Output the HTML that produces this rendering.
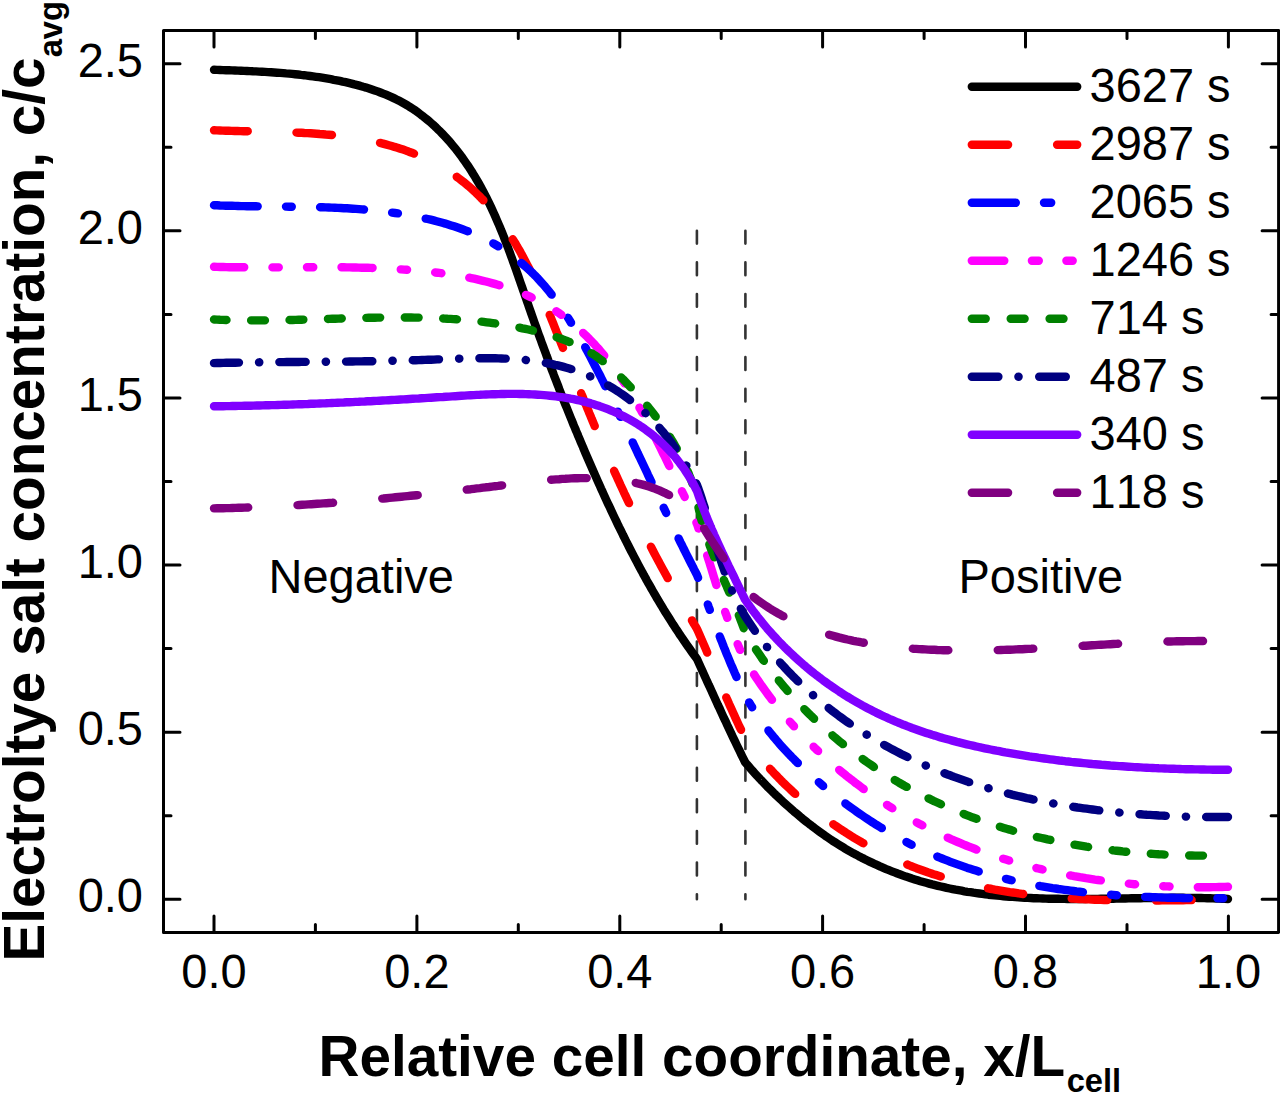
<!DOCTYPE html><html><head><meta charset="utf-8"><style>html,body{margin:0;padding:0;background:#fff;}svg{display:block;}text{font-family:"Liberation Sans",sans-serif;font-kerning:none;font-feature-settings:"kern" 0;}</style></head><body>
<svg width="1280" height="1095" viewBox="0 0 1280 1095">
<rect width="1280" height="1095" fill="#fff"/>
<g stroke="#333" stroke-width="2.6" stroke-linecap="round" stroke-dasharray="12.8 18.79">
<line x1="696.9" y1="230.8" x2="696.9" y2="899.3"/>
<line x1="745.4" y1="230.8" x2="745.4" y2="899.3"/>
</g>
<path d="M214.0 69.8L217.0 69.9L220.0 70.0L223.0 70.1L226.0 70.2L229.0 70.3L232.0 70.4L235.0 70.5L238.0 70.6L241.0 70.7L244.0 70.9L247.0 71.0L250.0 71.1L253.0 71.3L256.0 71.4L259.0 71.6L262.0 71.7L265.0 71.9L268.0 72.1L271.0 72.3L274.1 72.5L277.1 72.7L280.1 72.9L283.1 73.1L286.1 73.4L289.1 73.6L292.1 73.9L295.1 74.2L298.1 74.5L301.1 74.9L304.1 75.2L307.1 75.6L310.1 76.0L313.0 76.4L316.0 76.8L319.0 77.2L322.0 77.7L324.9 78.2L327.9 78.7L330.9 79.2L333.8 79.8L336.8 80.3L339.8 80.9L342.7 81.6L345.6 82.2L348.6 82.9L351.5 83.6L354.4 84.4L357.4 85.1L360.3 85.9L363.2 86.8L366.1 87.6L369.0 88.5L371.9 89.5L374.7 90.4L377.6 91.4L380.4 92.5L383.2 93.6L386.0 94.7L388.8 95.9L391.6 97.1L394.3 98.4L397.0 99.7L399.7 101.1L402.3 102.5L405.0 104.0L407.6 105.5L410.1 107.1L412.7 108.8L415.2 110.4L417.6 112.2L420.0 114.0L422.4 115.8L424.8 117.7L427.2 119.6L429.5 121.5L431.7 123.5L434.0 125.5L436.2 127.6L438.3 129.7L440.5 131.8L442.6 134.0L444.6 136.1L446.7 138.4L448.7 140.6L450.6 142.8L452.5 145.1L454.4 147.4L456.3 149.7L458.1 152.1L459.9 154.4L461.7 156.8L463.4 159.2L465.1 161.6L466.8 164.1L468.5 166.5L470.1 169.0L471.7 171.5L473.2 174.0L474.8 176.5L476.3 179.1L477.8 181.7L479.3 184.2L480.7 186.8L482.1 189.5L483.5 192.1L484.9 194.7L486.3 197.4L487.6 200.1L488.9 202.7L490.2 205.4L491.5 208.1L492.8 210.9L494.0 213.6L495.2 216.3L496.4 219.1L497.6 221.9L498.8 224.6L500.0 227.4L501.1 230.2L502.3 233.0L503.4 235.8L504.5 238.6L505.6 241.4L506.7 244.3L507.8 247.1L508.8 249.9L509.9 252.8L510.9 255.6L512.0 258.5L513.0 261.4L514.0 264.2L515.1 267.1L516.1 270.0L517.1 272.8L518.1 275.7L519.1 278.6L520.1 281.5L521.1 284.3L522.1 287.2L523.1 290.1L524.1 293.0L525.1 295.8L526.1 298.7L527.1 301.6L528.1 304.4L529.1 307.3L530.1 310.2L531.1 313.0L532.1 315.9L533.1 318.7L534.1 321.6L535.1 324.4L536.2 327.3L537.2 330.1L538.2 333.0L539.2 335.8L540.3 338.6L541.3 341.5L542.3 344.3L543.4 347.1L544.4 349.9L545.5 352.8L546.5 355.6L547.6 358.4L548.6 361.2L549.7 364.0L550.7 366.8L551.8 369.6L552.9 372.4L553.9 375.2L555.0 378.0L556.1 380.8L557.2 383.6L558.3 386.4L559.3 389.2L560.4 392.0L561.5 394.8L562.6 397.6L563.7 400.4L564.8 403.2L565.9 405.9L567.1 408.7L568.2 411.5L569.3 414.3L570.4 417.0L571.6 419.8L572.7 422.6L573.8 425.4L575.0 428.1L576.1 430.9L577.3 433.6L578.4 436.4L579.6 439.2L580.7 441.9L581.9 444.7L583.1 447.4L584.2 450.2L585.4 453.0L586.6 455.7L587.8 458.5L589.0 461.2L590.2 464.0L591.4 466.7L592.6 469.5L593.8 472.2L595.0 474.9L596.2 477.7L597.4 480.4L598.7 483.2L599.9 485.9L601.1 488.7L602.4 491.4L603.6 494.1L604.9 496.9L606.1 499.6L607.4 502.4L608.7 505.1L610.0 507.8L611.2 510.5L612.5 513.3L613.8 516.0L615.1 518.7L616.4 521.4L617.7 524.2L619.0 526.9L620.4 529.6L621.7 532.3L623.0 535.0L624.4 537.7L625.7 540.4L627.1 543.1L628.4 545.8L629.8 548.5L631.2 551.2L632.6 553.9L634.0 556.6L635.4 559.2L636.8 561.9L638.2 564.6L639.6 567.2L641.0 569.9L642.5 572.5L643.9 575.2L645.4 577.8L646.8 580.5L648.3 583.1L649.8 585.7L651.3 588.4L652.8 591.0L654.3 593.6L655.8 596.2L657.3 598.8L658.9 601.4L660.4 604.0L662.0 606.5L663.5 609.1L665.1 611.7L666.7 614.2L668.3 616.8L669.9 619.3L671.5 621.9L673.1 624.4L674.8 626.9L676.4 629.4L678.1 631.9L679.7 634.5L681.4 636.9L683.1 639.4L684.8 641.9L686.5 644.4L688.2 646.8L690.0 649.3L691.7 651.7L693.5 654.2L695.2 656.6L697.0 659.0L698.3 661.9L699.6 664.7L700.9 667.6L702.2 670.5L703.5 673.4L704.8 676.2L706.1 679.1L707.4 682.0L708.7 684.9L710.1 687.7L711.4 690.6L712.7 693.5L714.0 696.4L715.3 699.2L716.6 702.1L717.9 705.0L719.3 707.8L720.6 710.7L721.9 713.6L723.2 716.4L724.6 719.3L725.9 722.1L727.2 725.0L728.6 727.9L729.9 730.7L731.3 733.6L732.6 736.4L734.0 739.3L735.3 742.1L736.7 745.0L738.1 747.8L739.5 750.7L740.8 753.5L742.2 756.3L743.6 759.2L745.0 762.0L746.9 764.3L748.9 766.6L750.9 768.9L752.9 771.1L754.9 773.4L756.9 775.6L759.0 777.8L761.0 780.0L763.1 782.2L765.2 784.4L767.3 786.6L769.5 788.7L771.6 790.8L773.8 793.0L776.0 795.1L778.2 797.1L780.4 799.2L782.6 801.3L784.8 803.3L787.1 805.4L789.4 807.4L791.6 809.4L793.9 811.4L796.2 813.3L798.6 815.3L800.9 817.3L803.2 819.2L805.6 821.1L808.0 823.0L810.4 824.8L812.8 826.7L815.2 828.5L817.7 830.3L820.1 832.1L822.6 833.9L825.1 835.7L827.6 837.4L830.1 839.1L832.6 840.8L835.2 842.4L837.7 844.0L840.3 845.6L842.9 847.2L845.5 848.8L848.1 850.3L850.8 851.8L853.4 853.3L856.1 854.7L858.8 856.2L861.5 857.6L864.2 858.9L866.9 860.3L869.6 861.6L872.4 862.9L875.1 864.2L877.9 865.4L880.6 866.7L883.4 867.9L886.2 869.1L889.0 870.2L891.8 871.3L894.7 872.4L897.5 873.5L900.3 874.5L903.2 875.6L906.0 876.6L908.9 877.5L911.8 878.5L914.7 879.4L917.5 880.3L920.4 881.2L923.3 882.0L926.2 882.8L929.1 883.6L932.1 884.4L935.0 885.1L937.9 885.8L940.8 886.5L943.8 887.2L946.7 887.9L949.7 888.5L952.6 889.1L955.6 889.7L958.5 890.2L961.5 890.7L964.4 891.3L967.4 891.8L970.4 892.2L973.4 892.7L976.4 893.1L979.4 893.5L982.3 893.9L985.3 894.3L988.3 894.7L991.3 895.0L994.4 895.3L997.4 895.6L1000.4 895.9L1003.4 896.2L1006.4 896.5L1009.4 896.7L1012.5 896.9L1015.5 897.1L1018.5 897.3L1021.5 897.5L1024.6 897.7L1027.6 897.9L1030.7 898.0L1033.7 898.2L1036.7 898.3L1039.8 898.4L1042.8 898.5L1045.9 898.6L1048.9 898.7L1052.0 898.7L1055.0 898.8L1058.1 898.8L1061.1 898.9L1064.2 898.9L1067.3 899.0L1070.3 899.0L1073.4 899.0L1076.4 899.0L1079.5 899.0L1082.6 899.0L1085.6 899.0L1088.7 898.9L1091.7 898.9L1094.8 898.9L1097.9 898.9L1100.9 898.8L1104.0 898.8L1107.0 898.7L1110.1 898.7L1113.2 898.7L1116.2 898.6L1119.3 898.6L1122.3 898.5L1125.4 898.5L1128.5 898.4L1131.5 898.3L1134.6 898.3L1137.6 898.2L1140.7 898.2L1143.7 898.1L1146.8 898.1L1149.8 898.1L1152.8 898.0L1155.9 898.0L1158.9 897.9L1162.0 897.9L1165.0 897.9L1168.0 897.9L1171.1 897.8L1174.1 897.8L1177.1 897.8L1180.1 897.8L1183.1 897.8L1186.2 897.9L1189.2 897.9L1192.2 897.9L1195.2 897.9L1198.2 898.0L1201.2 898.0L1204.2 898.1L1207.2 898.2L1210.2 898.3L1213.1 898.4L1216.1 898.5L1219.1 898.6L1222.1 898.7L1225.0 898.8L1228.0 899.0" fill="none" stroke="#000000" stroke-width="8.4" stroke-linecap="round" stroke-linejoin="round"/>
<path d="M214.0 130.3L216.9 130.4L219.9 130.5L222.8 130.6L225.8 130.7L228.7 130.8L231.7 130.9L234.7 131.0L237.6 131.0L240.6 131.1L243.6 131.2L246.6 131.2L249.6 131.3L252.7 131.3L255.7 131.4L258.7 131.5L261.7 131.5L264.8 131.6L267.8 131.7L270.8 131.7L273.9 131.8L276.9 131.9L280.0 132.0L283.0 132.1L286.1 132.2L289.1 132.3L292.2 132.4L295.2 132.5L298.3 132.7L301.4 132.8L304.4 133.0L307.5 133.1L310.5 133.3L313.6 133.5L316.6 133.7L319.7 134.0L322.8 134.2L325.8 134.5L328.9 134.7L331.9 135.0L334.9 135.4L338.0 135.7L341.0 136.1L344.0 136.4L347.1 136.8L350.1 137.3L353.1 137.7L356.1 138.2L359.1 138.7L362.1 139.2L365.1 139.8L368.1 140.3L371.1 140.9L374.0 141.6L377.0 142.2L380.0 142.9L382.9 143.6L385.8 144.4L388.8 145.2L391.7 146.0L394.6 146.9L397.5 147.7L400.4 148.7L403.2 149.6L406.1 150.6L408.9 151.7L411.8 152.7L414.6 153.8L417.4 155.0L420.1 156.1L422.9 157.4L425.6 158.6L428.3 159.9L431.0 161.3L433.7 162.6L436.3 164.1L438.9 165.5L441.5 167.0L444.1 168.5L446.7 170.1L449.2 171.7L451.7 173.3L454.1 175.0L456.6 176.7L459.0 178.5L461.4 180.3L463.7 182.1L466.0 184.0L468.3 185.9L470.6 187.9L472.8 189.9L475.0 191.9L477.1 194.0L479.2 196.0L481.3 198.2L483.4 200.3L485.4 202.5L487.4 204.8L489.4 207.0L491.3 209.3L493.2 211.6L495.1 214.0L497.0 216.3L498.8 218.7L500.6 221.1L502.4 223.6L504.1 226.0L505.8 228.5L507.5 231.0L509.2 233.6L510.8 236.1L512.4 238.7L514.0 241.2L515.6 243.8L517.1 246.5L518.7 249.1L520.2 251.7L521.6 254.4L523.1 257.1L524.5 259.7L525.9 262.4L527.3 265.1L528.7 267.8L530.1 270.5L531.4 273.3L532.7 276.0L534.0 278.8L535.3 281.5L536.6 284.3L537.8 287.0L539.1 289.8L540.3 292.6L541.5 295.3L542.7 298.1L543.9 300.9L545.1 303.7L546.3 306.5L547.4 309.3L548.6 312.1L549.7 314.9L550.9 317.7L552.0 320.5L553.2 323.4L554.3 326.2L555.4 329.0L556.5 331.8L557.7 334.6L558.8 337.4L559.9 340.2L561.0 343.1L562.2 345.9L563.3 348.7L564.4 351.5L565.5 354.3L566.6 357.1L567.8 359.9L568.9 362.7L570.0 365.5L571.1 368.4L572.3 371.2L573.4 374.0L574.5 376.8L575.6 379.6L576.8 382.4L577.9 385.2L579.0 388.0L580.2 390.8L581.3 393.6L582.5 396.4L583.6 399.2L584.7 402.0L585.9 404.7L587.0 407.5L588.2 410.3L589.3 413.1L590.5 415.9L591.6 418.7L592.8 421.5L594.0 424.3L595.1 427.0L596.3 429.8L597.5 432.6L598.6 435.4L599.8 438.1L601.0 440.9L602.2 443.7L603.4 446.5L604.6 449.2L605.8 452.0L607.0 454.7L608.2 457.5L609.4 460.3L610.6 463.0L611.8 465.8L613.1 468.5L614.3 471.3L615.5 474.0L616.8 476.8L618.0 479.5L619.3 482.3L620.5 485.0L621.8 487.7L623.1 490.5L624.3 493.2L625.6 495.9L626.9 498.7L628.2 501.4L629.5 504.1L630.8 506.8L632.1 509.6L633.5 512.3L634.8 515.0L636.1 517.7L637.5 520.4L638.8 523.1L640.2 525.8L641.5 528.5L642.9 531.2L644.2 533.9L645.6 536.6L647.0 539.3L648.4 542.0L649.8 544.7L651.2 547.3L652.6 550.0L654.0 552.7L655.4 555.4L656.8 558.0L658.3 560.7L659.7 563.4L661.1 566.0L662.6 568.7L664.0 571.3L665.5 574.0L666.9 576.6L668.4 579.3L669.9 581.9L671.3 584.6L672.8 587.2L674.3 589.8L675.8 592.5L677.3 595.1L678.8 597.7L680.3 600.3L681.8 603.0L683.3 605.6L684.8 608.2L686.3 610.8L687.8 613.4L689.3 616.0L690.9 618.6L692.4 621.2L693.9 623.8L695.5 626.4L697.0 629.0L698.3 631.9L699.5 634.7L700.8 637.6L702.0 640.5L703.3 643.4L704.5 646.2L705.8 649.1L707.0 652.0L708.2 654.9L709.4 657.8L710.7 660.7L711.9 663.5L713.1 666.4L714.3 669.3L715.5 672.2L716.8 675.1L718.0 678.0L719.2 680.9L720.4 683.8L721.7 686.6L722.9 689.5L724.1 692.4L725.4 695.3L726.6 698.2L727.9 701.0L729.1 703.9L730.4 706.8L731.7 709.6L733.0 712.5L734.3 715.3L735.6 718.2L736.9 721.0L738.2 723.9L739.5 726.7L740.9 729.5L742.2 732.4L743.6 735.2L745.0 738.0L746.8 740.5L748.6 742.9L750.5 745.4L752.4 747.8L754.2 750.2L756.1 752.6L758.1 754.9L760.0 757.3L762.0 759.6L764.0 761.9L766.0 764.2L768.0 766.5L770.0 768.8L772.1 771.0L774.2 773.3L776.3 775.5L778.4 777.7L780.5 779.8L782.6 782.0L784.8 784.1L787.0 786.2L789.2 788.3L791.4 790.4L793.6 792.5L795.9 794.5L798.1 796.5L800.4 798.5L802.7 800.5L805.0 802.5L807.3 804.4L809.7 806.4L812.0 808.3L814.4 810.2L816.8 812.1L819.2 813.9L821.6 815.7L824.0 817.6L826.4 819.3L828.9 821.1L831.3 822.9L833.8 824.6L836.3 826.3L838.8 828.0L841.3 829.7L843.9 831.3L846.4 833.0L849.0 834.6L851.5 836.2L854.1 837.8L856.7 839.3L859.3 840.8L861.9 842.4L864.6 843.8L867.2 845.3L869.9 846.8L872.5 848.2L875.2 849.6L877.9 851.0L880.6 852.4L883.3 853.7L886.0 855.0L888.7 856.3L891.4 857.6L894.2 858.9L896.9 860.1L899.7 861.3L902.4 862.5L905.2 863.7L908.0 864.8L910.8 866.0L913.6 867.1L916.4 868.2L919.2 869.2L922.1 870.3L924.9 871.3L927.7 872.3L930.6 873.2L933.4 874.2L936.3 875.1L939.2 876.0L942.0 876.9L944.9 877.8L947.8 878.6L950.7 879.5L953.6 880.3L956.5 881.1L959.4 881.8L962.3 882.6L965.3 883.3L968.2 884.0L971.1 884.7L974.1 885.4L977.0 886.0L980.0 886.7L982.9 887.3L985.9 887.9L988.9 888.5L991.8 889.0L994.8 889.6L997.8 890.1L1000.8 890.6L1003.8 891.1L1006.8 891.6L1009.8 892.1L1012.8 892.5L1015.8 892.9L1018.8 893.4L1021.8 893.8L1024.8 894.2L1027.8 894.5L1030.8 894.9L1033.9 895.3L1036.9 895.6L1039.9 895.9L1042.9 896.2L1046.0 896.5L1049.0 896.8L1052.1 897.1L1055.1 897.3L1058.1 897.6L1061.2 897.8L1064.2 898.0L1067.3 898.3L1070.3 898.5L1073.4 898.6L1076.4 898.8L1079.5 899.0L1082.6 899.1L1085.6 899.3L1088.7 899.4L1091.7 899.6L1094.8 899.7L1097.8 899.8L1100.9 899.9L1104.0 900.0L1107.0 900.1L1110.1 900.2L1113.1 900.2L1116.2 900.3L1119.2 900.3L1122.3 900.4L1125.4 900.4L1128.4 900.5L1131.5 900.5L1134.5 900.5L1137.6 900.5L1140.6 900.5L1143.7 900.5L1146.7 900.5L1149.8 900.5L1152.8 900.5L1155.9 900.5L1158.9 900.5L1161.9 900.4L1165.0 900.4L1168.0 900.4L1171.0 900.3L1174.1 900.3L1177.1 900.3L1180.1 900.2L1183.1 900.2L1186.2 900.1L1189.2 900.1L1192.2 900.0L1195.2 900.0L1198.2 899.9L1201.2 899.8L1204.2 899.8L1207.2 899.7L1210.2 899.7L1213.2 899.6L1216.1 899.5L1219.1 899.5L1222.1 899.4L1225.0 899.4L1228.0 899.3" fill="none" stroke="#ff0000" stroke-width="8.4" stroke-linecap="round" stroke-linejoin="round" stroke-dasharray="35.60 48.77" stroke-dashoffset="1.86"/>
<path d="M214.0 205.2L217.0 205.3L220.0 205.5L223.0 205.6L226.0 205.7L229.0 205.8L232.0 205.8L235.0 205.9L238.0 206.0L241.0 206.1L244.0 206.1L247.0 206.2L250.0 206.2L253.0 206.3L256.1 206.3L259.1 206.4L262.1 206.4L265.1 206.4L268.1 206.5L271.2 206.5L274.2 206.5L277.2 206.5L280.2 206.6L283.3 206.6L286.3 206.6L289.3 206.7L292.4 206.7L295.4 206.7L298.4 206.8L301.5 206.8L304.5 206.9L307.5 206.9L310.6 207.0L313.6 207.1L316.6 207.1L319.6 207.2L322.7 207.3L325.7 207.4L328.7 207.5L331.8 207.6L334.8 207.7L337.8 207.9L340.8 208.0L343.9 208.2L346.9 208.3L349.9 208.5L352.9 208.7L356.0 208.9L359.0 209.1L362.0 209.4L365.0 209.6L368.0 209.9L371.0 210.1L374.0 210.4L377.0 210.7L380.0 211.1L383.0 211.4L386.0 211.8L389.0 212.2L392.0 212.6L395.0 213.0L398.0 213.4L401.0 213.9L404.0 214.4L407.0 214.9L409.9 215.4L412.9 215.9L415.9 216.5L418.9 217.1L421.8 217.7L424.8 218.4L427.7 219.0L430.7 219.7L433.6 220.4L436.6 221.2L439.5 222.0L442.4 222.8L445.3 223.6L448.2 224.5L451.1 225.4L454.0 226.3L456.9 227.3L459.7 228.3L462.5 229.3L465.4 230.4L468.2 231.4L471.0 232.6L473.7 233.8L476.5 235.0L479.2 236.2L481.9 237.5L484.6 238.8L487.3 240.2L490.0 241.6L492.6 243.0L495.2 244.5L497.8 246.0L500.3 247.6L502.8 249.2L505.3 250.9L507.8 252.6L510.2 254.3L512.6 256.1L515.0 257.9L517.4 259.7L519.7 261.6L522.0 263.5L524.3 265.5L526.5 267.5L528.7 269.5L530.9 271.5L533.1 273.6L535.2 275.7L537.3 277.9L539.3 280.1L541.3 282.3L543.3 284.5L545.3 286.8L547.2 289.1L549.1 291.4L551.0 293.8L552.8 296.1L554.7 298.5L556.4 300.9L558.2 303.4L560.0 305.8L561.7 308.3L563.4 310.8L565.1 313.3L566.7 315.9L568.4 318.4L570.0 321.0L571.6 323.6L573.2 326.1L574.7 328.8L576.3 331.4L577.8 334.0L579.3 336.7L580.8 339.3L582.3 342.0L583.8 344.6L585.3 347.3L586.7 350.0L588.2 352.7L589.6 355.4L591.0 358.1L592.4 360.8L593.8 363.5L595.2 366.2L596.6 368.9L598.0 371.6L599.4 374.3L600.8 377.0L602.1 379.7L603.5 382.4L604.8 385.1L606.2 387.8L607.5 390.5L608.9 393.2L610.2 395.9L611.6 398.7L612.9 401.4L614.2 404.1L615.5 406.8L616.9 409.5L618.2 412.2L619.5 414.9L620.8 417.6L622.1 420.3L623.4 423.0L624.7 425.7L626.0 428.5L627.3 431.2L628.6 433.9L629.9 436.6L631.2 439.3L632.5 442.0L633.8 444.7L635.1 447.5L636.4 450.2L637.6 452.9L638.9 455.6L640.2 458.3L641.5 461.1L642.8 463.8L644.1 466.5L645.4 469.2L646.7 471.9L647.9 474.7L649.2 477.4L650.5 480.1L651.8 482.8L653.1 485.6L654.4 488.3L655.7 491.0L657.0 493.7L658.3 496.4L659.6 499.2L660.9 501.9L662.2 504.6L663.5 507.3L664.8 510.1L666.1 512.8L667.4 515.5L668.7 518.2L670.0 520.9L671.3 523.6L672.7 526.4L674.0 529.1L675.3 531.8L676.6 534.5L678.0 537.2L679.3 539.9L680.6 542.6L682.0 545.3L683.3 548.0L684.7 550.7L686.0 553.4L687.4 556.1L688.7 558.8L690.1 561.5L691.5 564.2L692.9 566.9L694.2 569.6L695.6 572.3L697.0 575.0L698.1 577.9L699.1 580.7L700.2 583.6L701.2 586.5L702.3 589.4L703.3 592.3L704.4 595.2L705.4 598.0L706.5 600.9L707.6 603.8L708.6 606.7L709.7 609.6L710.7 612.5L711.8 615.4L712.9 618.3L714.0 621.2L715.0 624.0L716.1 626.9L717.2 629.8L718.3 632.7L719.4 635.6L720.5 638.5L721.7 641.3L722.8 644.2L723.9 647.1L725.1 649.9L726.2 652.8L727.4 655.6L728.6 658.5L729.7 661.3L730.9 664.2L732.2 667.0L733.4 669.8L734.6 672.7L735.9 675.5L737.1 678.3L738.4 681.1L739.7 683.9L741.0 686.7L742.3 689.5L743.6 692.2L745.0 695.0L746.4 697.6L747.9 700.2L749.4 702.8L751.0 705.4L752.6 708.0L754.2 710.5L755.8 713.0L757.5 715.5L759.2 718.0L760.9 720.4L762.7 722.8L764.4 725.3L766.3 727.6L768.1 730.0L769.9 732.4L771.8 734.7L773.7 737.0L775.7 739.3L777.6 741.6L779.6 743.9L781.6 746.2L783.6 748.4L785.7 750.6L787.8 752.8L789.8 755.0L791.9 757.2L794.1 759.3L796.2 761.5L798.4 763.6L800.6 765.7L802.8 767.8L805.0 769.9L807.2 771.9L809.4 774.0L811.7 776.0L814.0 778.0L816.3 780.0L818.6 782.0L820.9 784.0L823.2 786.0L825.6 787.9L827.9 789.9L830.3 791.8L832.6 793.7L835.0 795.6L837.4 797.5L839.8 799.3L842.3 801.2L844.7 803.0L847.2 804.8L849.6 806.6L852.1 808.4L854.6 810.2L857.1 812.0L859.6 813.7L862.1 815.4L864.6 817.1L867.1 818.8L869.7 820.5L872.2 822.1L874.8 823.8L877.4 825.4L880.0 827.0L882.6 828.6L885.2 830.1L887.8 831.7L890.4 833.2L893.1 834.7L895.7 836.2L898.4 837.7L901.0 839.1L903.7 840.6L906.4 842.0L909.1 843.4L911.8 844.8L914.5 846.1L917.2 847.4L919.9 848.8L922.7 850.0L925.4 851.3L928.2 852.6L930.9 853.8L933.7 855.0L936.5 856.2L939.2 857.4L942.0 858.5L944.8 859.6L947.6 860.7L950.4 861.8L953.3 862.9L956.1 863.9L958.9 864.9L961.8 865.9L964.6 866.9L967.4 867.9L970.3 868.8L973.2 869.7L976.0 870.6L978.9 871.5L981.8 872.4L984.7 873.2L987.6 874.1L990.5 874.9L993.4 875.7L996.3 876.4L999.2 877.2L1002.1 877.9L1005.1 878.7L1008.0 879.4L1010.9 880.1L1013.9 880.7L1016.8 881.4L1019.8 882.0L1022.7 882.7L1025.7 883.3L1028.7 883.9L1031.6 884.4L1034.6 885.0L1037.6 885.5L1040.6 886.1L1043.5 886.6L1046.5 887.1L1049.5 887.6L1052.5 888.1L1055.5 888.5L1058.5 889.0L1061.5 889.4L1064.5 889.8L1067.5 890.2L1070.5 890.6L1073.5 891.0L1076.6 891.4L1079.6 891.7L1082.6 892.1L1085.6 892.4L1088.6 892.7L1091.7 893.1L1094.7 893.4L1097.7 893.6L1100.8 893.9L1103.8 894.2L1106.8 894.4L1109.9 894.7L1112.9 894.9L1115.9 895.2L1119.0 895.4L1122.0 895.6L1125.1 895.8L1128.1 896.0L1131.1 896.1L1134.2 896.3L1137.2 896.5L1140.3 896.6L1143.3 896.8L1146.3 896.9L1149.4 897.0L1152.4 897.2L1155.5 897.3L1158.5 897.4L1161.5 897.5L1164.6 897.6L1167.6 897.7L1170.7 897.7L1173.7 897.8L1176.7 897.9L1179.8 897.9L1182.8 898.0L1185.8 898.1L1188.8 898.1L1191.9 898.1L1194.9 898.2L1197.9 898.2L1200.9 898.2L1204.0 898.3L1207.0 898.3L1210.0 898.3L1213.0 898.3L1216.0 898.3L1219.0 898.3L1222.0 898.3L1225.0 898.3L1228.0 898.3" fill="none" stroke="#0000ff" stroke-width="8.4" stroke-linecap="round" stroke-linejoin="round" stroke-dasharray="44.00 28.31 5.80 28.31" stroke-dashoffset="0.3"/>
<path d="M214.0 266.8L217.1 266.9L220.2 267.0L223.3 267.0L226.3 267.1L229.4 267.2L232.5 267.2L235.5 267.3L238.6 267.3L241.6 267.3L244.7 267.3L247.7 267.4L250.7 267.4L253.8 267.4L256.8 267.4L259.8 267.4L262.9 267.4L265.9 267.4L268.9 267.4L271.9 267.4L274.9 267.4L277.9 267.4L280.9 267.4L283.9 267.4L286.9 267.3L289.9 267.3L292.9 267.3L295.9 267.3L298.9 267.3L301.9 267.3L304.9 267.3L307.9 267.3L310.9 267.2L313.9 267.2L316.9 267.2L319.9 267.2L322.8 267.2L325.8 267.2L328.8 267.2L331.8 267.3L334.8 267.3L337.8 267.3L340.8 267.3L343.8 267.3L346.8 267.4L349.8 267.4L352.8 267.5L355.8 267.5L358.8 267.6L361.8 267.7L364.8 267.7L367.8 267.8L370.8 267.9L373.8 268.0L376.8 268.1L379.8 268.2L382.8 268.4L385.9 268.5L388.9 268.7L391.9 268.8L395.0 269.0L398.0 269.2L401.0 269.4L404.1 269.6L407.1 269.8L410.2 270.0L413.2 270.2L416.3 270.5L419.4 270.8L422.4 271.1L425.5 271.4L428.5 271.7L431.6 272.0L434.7 272.4L437.7 272.7L440.8 273.1L443.8 273.5L446.9 273.9L449.9 274.4L453.0 274.8L456.0 275.3L459.1 275.8L462.1 276.4L465.1 276.9L468.1 277.5L471.1 278.1L474.1 278.7L477.1 279.4L480.1 280.1L483.0 280.8L486.0 281.5L488.9 282.3L491.9 283.1L494.8 283.9L497.7 284.7L500.6 285.6L503.5 286.5L506.4 287.4L509.2 288.4L512.0 289.4L514.9 290.4L517.7 291.5L520.4 292.6L523.2 293.8L526.0 294.9L528.7 296.1L531.4 297.4L534.1 298.7L536.7 300.0L539.4 301.3L542.0 302.7L544.6 304.2L547.2 305.6L549.7 307.2L552.3 308.7L554.8 310.3L557.3 312.0L559.7 313.6L562.1 315.4L564.5 317.1L566.9 318.9L569.3 320.8L571.6 322.7L573.9 324.6L576.2 326.5L578.4 328.5L580.6 330.5L582.8 332.6L585.0 334.7L587.2 336.8L589.3 339.0L591.4 341.1L593.5 343.3L595.5 345.6L597.6 347.8L599.6 350.1L601.5 352.4L603.5 354.8L605.4 357.1L607.4 359.5L609.3 361.9L611.1 364.4L613.0 366.8L614.8 369.3L616.6 371.8L618.4 374.3L620.1 376.8L621.9 379.3L623.6 381.8L625.3 384.4L627.0 387.0L628.6 389.5L630.2 392.1L631.9 394.7L633.4 397.3L635.0 400.0L636.6 402.6L638.1 405.2L639.6 407.9L641.1 410.5L642.5 413.1L644.0 415.8L645.4 418.4L646.8 421.1L648.2 423.7L649.6 426.4L651.0 429.1L652.4 431.7L653.7 434.4L655.1 437.1L656.4 439.7L657.7 442.4L659.1 445.1L660.4 447.8L661.7 450.5L663.0 453.2L664.4 455.8L665.7 458.5L667.0 461.2L668.3 463.9L669.6 466.6L671.0 469.3L672.3 472.0L673.7 474.7L675.0 477.4L676.4 480.1L677.7 482.8L679.0 485.5L680.4 488.2L681.7 490.9L683.1 493.6L684.4 496.3L685.7 499.0L687.0 501.8L688.3 504.5L689.6 507.3L690.9 510.0L692.1 512.8L693.4 515.6L694.6 518.4L695.8 521.2L697.0 524.0L698.0 526.9L699.0 529.8L700.0 532.7L700.9 535.6L701.9 538.5L702.8 541.5L703.8 544.4L704.7 547.3L705.6 550.2L706.5 553.2L707.4 556.1L708.3 559.0L709.3 562.0L710.2 564.9L711.1 567.9L712.0 570.8L712.9 573.7L713.8 576.7L714.7 579.6L715.6 582.6L716.5 585.5L717.4 588.4L718.4 591.4L719.3 594.3L720.3 597.2L721.2 600.1L722.2 603.1L723.2 606.0L724.1 608.9L725.1 611.8L726.2 614.7L727.2 617.6L728.2 620.5L729.3 623.3L730.4 626.2L731.5 629.1L732.6 631.9L733.7 634.8L734.9 637.6L736.1 640.5L737.3 643.3L738.5 646.1L739.7 648.9L741.0 651.7L742.3 654.5L743.6 657.2L745.0 660.0L746.6 662.6L748.2 665.3L749.8 667.9L751.5 670.5L753.1 673.1L754.8 675.6L756.5 678.2L758.2 680.7L760.0 683.3L761.7 685.8L763.5 688.3L765.3 690.7L767.1 693.2L768.9 695.7L770.7 698.1L772.6 700.5L774.4 702.9L776.3 705.3L778.2 707.7L780.1 710.1L782.1 712.4L784.0 714.8L786.0 717.1L787.9 719.4L789.9 721.7L791.9 724.0L793.9 726.2L796.0 728.5L798.0 730.7L800.1 732.9L802.2 735.1L804.3 737.3L806.4 739.5L808.5 741.7L810.6 743.8L812.8 745.9L814.9 748.0L817.1 750.1L819.3 752.2L821.5 754.3L823.7 756.3L826.0 758.4L828.2 760.4L830.5 762.4L832.7 764.4L835.0 766.3L837.3 768.3L839.6 770.2L842.0 772.2L844.3 774.1L846.6 776.0L849.0 777.8L851.4 779.7L853.8 781.5L856.1 783.4L858.6 785.2L861.0 787.0L863.4 788.8L865.8 790.5L868.3 792.3L870.8 794.0L873.2 795.7L875.7 797.4L878.2 799.1L880.7 800.8L883.3 802.5L885.8 804.1L888.3 805.7L890.9 807.3L893.4 808.9L896.0 810.5L898.6 812.0L901.2 813.6L903.8 815.1L906.4 816.6L909.0 818.1L911.7 819.6L914.3 821.0L916.9 822.5L919.6 823.9L922.3 825.3L924.9 826.7L927.6 828.1L930.3 829.4L933.0 830.7L935.7 832.1L938.5 833.4L941.2 834.7L943.9 835.9L946.7 837.2L949.4 838.4L952.2 839.7L955.0 840.9L957.7 842.0L960.5 843.2L963.3 844.4L966.1 845.5L968.9 846.6L971.7 847.7L974.6 848.8L977.4 849.9L980.2 850.9L983.1 852.0L985.9 853.0L988.8 854.0L991.6 855.0L994.5 855.9L997.4 856.9L1000.3 857.8L1003.1 858.7L1006.0 859.6L1008.9 860.5L1011.8 861.4L1014.7 862.2L1017.7 863.1L1020.6 863.9L1023.5 864.7L1026.4 865.5L1029.4 866.3L1032.3 867.0L1035.2 867.8L1038.2 868.5L1041.1 869.2L1044.1 869.9L1047.1 870.6L1050.0 871.3L1053.0 871.9L1056.0 872.6L1058.9 873.2L1061.9 873.8L1064.9 874.4L1067.9 875.0L1070.9 875.5L1073.9 876.1L1076.9 876.6L1079.9 877.2L1082.9 877.7L1085.9 878.2L1088.9 878.6L1091.9 879.1L1094.9 879.6L1097.9 880.0L1100.9 880.4L1103.9 880.8L1107.0 881.2L1110.0 881.6L1113.0 882.0L1116.0 882.3L1119.1 882.7L1122.1 883.0L1125.1 883.3L1128.2 883.6L1131.2 883.9L1134.2 884.2L1137.2 884.5L1140.3 884.7L1143.3 885.0L1146.3 885.2L1149.4 885.4L1152.4 885.6L1155.5 885.8L1158.5 886.0L1161.5 886.1L1164.6 886.3L1167.6 886.4L1170.6 886.6L1173.7 886.7L1176.7 886.8L1179.7 886.9L1182.7 887.0L1185.8 887.0L1188.8 887.1L1191.8 887.1L1194.9 887.2L1197.9 887.2L1200.9 887.2L1203.9 887.2L1206.9 887.2L1210.0 887.2L1213.0 887.1L1216.0 887.1L1219.0 887.0L1222.0 887.0L1225.0 886.9L1228.0 886.8" fill="none" stroke="#ff00ff" stroke-width="8.4" stroke-linecap="round" stroke-linejoin="round" stroke-dasharray="31.10 28.23 6.30 28.23 6.30 28.23" stroke-dashoffset="0.87"/>
<path d="M214.0 319.5L217.0 319.6L220.0 319.8L223.0 319.9L226.0 320.0L229.1 320.1L232.1 320.2L235.1 320.2L238.1 320.3L241.1 320.3L244.1 320.4L247.2 320.4L250.2 320.4L253.2 320.4L256.2 320.4L259.3 320.4L262.3 320.4L265.3 320.4L268.4 320.4L271.4 320.4L274.4 320.3L277.5 320.3L280.5 320.2L283.5 320.2L286.6 320.1L289.6 320.0L292.6 320.0L295.7 319.9L298.7 319.8L301.8 319.7L304.8 319.6L307.8 319.6L310.9 319.5L313.9 319.4L317.0 319.3L320.0 319.2L323.1 319.1L326.1 319.0L329.1 318.9L332.2 318.8L335.2 318.7L338.3 318.6L341.3 318.5L344.4 318.4L347.4 318.4L350.4 318.3L353.5 318.2L356.5 318.1L359.6 318.0L362.6 318.0L365.7 317.9L368.7 317.8L371.7 317.8L374.8 317.7L377.8 317.6L380.9 317.6L383.9 317.6L386.9 317.5L390.0 317.5L393.0 317.5L396.1 317.5L399.1 317.5L402.1 317.5L405.2 317.5L408.2 317.5L411.2 317.5L414.3 317.6L417.3 317.6L420.3 317.7L423.4 317.8L426.4 317.8L429.4 317.9L432.4 318.0L435.5 318.2L438.5 318.3L441.5 318.4L444.5 318.6L447.5 318.8L450.6 318.9L453.6 319.1L456.6 319.3L459.6 319.6L462.6 319.8L465.6 320.1L468.6 320.3L471.6 320.6L474.6 320.9L477.6 321.2L480.6 321.6L483.6 321.9L486.6 322.3L489.6 322.7L492.6 323.1L495.6 323.5L498.6 324.0L501.6 324.4L504.6 324.9L507.5 325.4L510.5 325.9L513.5 326.5L516.5 327.1L519.4 327.6L522.4 328.3L525.4 328.9L528.3 329.5L531.3 330.2L534.3 330.9L537.2 331.7L540.2 332.4L543.1 333.2L546.0 334.0L549.0 334.8L551.9 335.7L554.8 336.6L557.7 337.6L560.5 338.5L563.4 339.6L566.2 340.6L569.0 341.8L571.8 342.9L574.6 344.1L577.3 345.4L580.0 346.7L582.6 348.1L585.3 349.5L587.9 351.0L590.4 352.5L593.0 354.1L595.5 355.8L597.9 357.5L600.3 359.3L602.7 361.1L605.1 362.9L607.4 364.9L609.7 366.8L612.0 368.8L614.2 370.8L616.4 372.9L618.6 375.0L620.8 377.1L623.0 379.2L625.1 381.4L627.2 383.6L629.3 385.8L631.4 388.0L633.5 390.2L635.5 392.5L637.6 394.7L639.6 397.0L641.6 399.3L643.6 401.6L645.5 403.9L647.5 406.2L649.4 408.6L651.3 410.9L653.2 413.3L655.0 415.7L656.8 418.1L658.6 420.6L660.4 423.0L662.2 425.5L663.9 427.9L665.6 430.4L667.3 433.0L668.9 435.5L670.5 438.0L672.1 440.6L673.6 443.2L675.1 445.8L676.6 448.4L678.1 451.0L679.5 453.7L680.9 456.4L682.2 459.1L683.5 461.8L684.8 464.5L686.0 467.3L687.2 470.1L688.4 472.9L689.5 475.7L690.6 478.5L691.7 481.4L692.7 484.3L693.6 487.2L694.5 490.1L695.4 493.0L696.2 496.0L697.0 499.0L697.5 502.0L698.0 505.1L698.6 508.1L699.3 511.1L700.0 514.1L700.7 517.1L701.5 520.1L702.3 523.0L703.2 526.0L704.0 528.9L705.0 531.8L705.9 534.7L706.9 537.6L707.9 540.5L709.0 543.4L710.0 546.3L711.1 549.2L712.2 552.1L713.4 554.9L714.5 557.8L715.7 560.7L716.8 563.5L718.0 566.4L719.2 569.2L720.5 572.1L721.7 574.9L722.9 577.7L724.1 580.6L725.4 583.4L726.6 586.2L727.8 589.1L729.1 591.9L730.3 594.8L731.5 597.6L732.7 600.4L733.9 603.3L735.1 606.1L736.3 609.0L737.5 611.8L738.6 614.7L739.7 617.6L740.8 620.4L741.9 623.3L743.0 626.2L744.0 629.1L745.0 632.0L746.6 634.6L748.2 637.3L749.8 639.9L751.4 642.5L753.1 645.0L754.8 647.6L756.4 650.1L758.2 652.7L759.9 655.2L761.6 657.7L763.4 660.2L765.2 662.6L766.9 665.1L768.8 667.5L770.6 670.0L772.4 672.4L774.3 674.8L776.2 677.2L778.1 679.5L780.0 681.9L781.9 684.2L783.8 686.5L785.8 688.8L787.8 691.1L789.8 693.4L791.8 695.7L793.8 697.9L795.8 700.1L797.9 702.3L799.9 704.5L802.0 706.7L804.1 708.9L806.2 711.0L808.4 713.2L810.5 715.3L812.7 717.4L814.8 719.5L817.0 721.5L819.2 723.6L821.4 725.6L823.6 727.7L825.9 729.7L828.1 731.7L830.4 733.6L832.7 735.6L835.0 737.6L837.3 739.5L839.6 741.4L841.9 743.3L844.3 745.2L846.6 747.0L849.0 748.9L851.4 750.7L853.8 752.5L856.2 754.3L858.6 756.1L861.0 757.9L863.5 759.6L865.9 761.4L868.4 763.1L870.9 764.8L873.3 766.5L875.8 768.2L878.4 769.8L880.9 771.5L883.4 773.1L885.9 774.7L888.5 776.3L891.1 777.8L893.6 779.4L896.2 780.9L898.8 782.5L901.4 784.0L904.0 785.5L906.7 786.9L909.3 788.4L911.9 789.8L914.6 791.3L917.2 792.7L919.9 794.1L922.6 795.4L925.3 796.8L928.0 798.1L930.7 799.4L933.4 800.8L936.1 802.0L938.9 803.3L941.6 804.6L944.3 805.8L947.1 807.0L949.9 808.2L952.6 809.4L955.4 810.6L958.2 811.7L961.0 812.9L963.8 814.0L966.6 815.1L969.4 816.2L972.2 817.3L975.1 818.3L977.9 819.3L980.7 820.4L983.6 821.4L986.4 822.3L989.3 823.3L992.2 824.3L995.0 825.2L997.9 826.1L1000.8 827.0L1003.7 827.9L1006.6 828.8L1009.5 829.6L1012.4 830.5L1015.3 831.3L1018.2 832.1L1021.1 832.9L1024.0 833.7L1027.0 834.5L1029.9 835.2L1032.8 835.9L1035.8 836.7L1038.7 837.4L1041.7 838.0L1044.6 838.7L1047.6 839.4L1050.6 840.0L1053.5 840.7L1056.5 841.3L1059.5 841.9L1062.5 842.5L1065.4 843.0L1068.4 843.6L1071.4 844.1L1074.4 844.7L1077.4 845.2L1080.4 845.7L1083.4 846.2L1086.4 846.7L1089.4 847.1L1092.4 847.6L1095.4 848.0L1098.4 848.4L1101.4 848.8L1104.4 849.2L1107.4 849.6L1110.5 850.0L1113.5 850.4L1116.5 850.7L1119.5 851.0L1122.5 851.4L1125.5 851.7L1128.6 852.0L1131.6 852.2L1134.6 852.5L1137.6 852.8L1140.7 853.0L1143.7 853.3L1146.7 853.5L1149.7 853.7L1152.8 853.9L1155.8 854.1L1158.8 854.3L1161.8 854.4L1164.8 854.6L1167.9 854.7L1170.9 854.9L1173.9 855.0L1176.9 855.1L1179.9 855.2L1183.0 855.3L1186.0 855.4L1189.0 855.5L1192.0 855.5L1195.0 855.6L1198.0 855.6L1201.0 855.6L1204.0 855.6L1207.0 855.7L1210.0 855.7L1213.0 855.6L1216.0 855.6L1219.0 855.6L1222.0 855.5L1225.0 855.5" fill="none" stroke="#008000" stroke-width="8.4" stroke-linecap="round" stroke-linejoin="round" stroke-dasharray="13.80 24.63" stroke-dashoffset="1.29"/>
<path d="M214.0 363.1L217.1 363.0L220.1 363.0L223.2 362.9L226.3 362.8L229.3 362.8L232.4 362.7L235.4 362.7L238.5 362.6L241.5 362.6L244.5 362.5L247.6 362.5L250.6 362.4L253.6 362.4L256.7 362.4L259.7 362.3L262.7 362.3L265.7 362.2L268.7 362.2L271.7 362.2L274.8 362.2L277.8 362.1L280.8 362.1L283.8 362.1L286.8 362.0L289.8 362.0L292.8 362.0L295.8 362.0L298.8 362.0L301.8 361.9L304.8 361.9L307.7 361.9L310.7 361.9L313.7 361.8L316.7 361.8L319.7 361.8L322.7 361.8L325.7 361.7L328.7 361.7L331.7 361.7L334.6 361.7L337.6 361.6L340.6 361.6L343.6 361.6L346.6 361.6L349.6 361.5L352.6 361.5L355.6 361.4L358.6 361.4L361.6 361.4L364.6 361.3L367.6 361.3L370.6 361.2L373.6 361.2L376.6 361.1L379.6 361.1L382.6 361.0L385.6 361.0L388.6 360.9L391.6 360.8L394.6 360.8L397.6 360.7L400.7 360.6L403.7 360.5L406.7 360.5L409.7 360.4L412.8 360.3L415.8 360.2L418.8 360.1L421.9 360.0L424.9 359.9L428.0 359.8L431.0 359.7L434.1 359.6L437.2 359.4L440.2 359.3L443.3 359.2L446.3 359.1L449.4 359.0L452.5 358.9L455.5 358.8L458.6 358.7L461.7 358.6L464.8 358.5L467.8 358.4L470.9 358.3L474.0 358.3L477.0 358.2L480.1 358.2L483.1 358.2L486.2 358.2L489.3 358.2L492.3 358.2L495.4 358.3L498.4 358.4L501.4 358.5L504.5 358.6L507.5 358.7L510.5 358.9L513.5 359.0L516.6 359.3L519.6 359.5L522.6 359.7L525.5 360.0L528.5 360.4L531.5 360.7L534.5 361.1L537.4 361.5L540.4 362.0L543.3 362.4L546.3 363.0L549.2 363.5L552.1 364.1L555.0 364.8L557.9 365.4L560.8 366.1L563.6 366.9L566.5 367.7L569.3 368.5L572.2 369.4L575.0 370.4L577.8 371.4L580.6 372.4L583.4 373.5L586.1 374.6L588.9 375.8L591.6 377.0L594.3 378.2L597.0 379.5L599.7 380.9L602.4 382.2L605.0 383.7L607.6 385.1L610.2 386.6L612.8 388.2L615.3 389.8L617.9 391.4L620.4 393.1L622.9 394.8L625.3 396.5L627.8 398.3L630.2 400.1L632.5 402.0L634.9 403.9L637.2 405.8L639.5 407.8L641.8 409.8L644.0 411.8L646.3 413.9L648.4 416.0L650.6 418.2L652.7 420.3L654.8 422.5L656.8 424.8L658.8 427.1L660.8 429.4L662.8 431.7L664.7 434.1L666.6 436.4L668.4 438.9L670.3 441.3L672.1 443.7L673.8 446.2L675.6 448.7L677.3 451.2L678.9 453.8L680.6 456.3L682.2 458.9L683.8 461.5L685.4 464.0L686.9 466.6L688.4 469.3L689.9 471.9L691.4 474.5L692.8 477.1L694.2 479.7L695.6 482.4L697.0 485.0L698.1 487.9L699.1 490.8L700.1 493.7L701.1 496.7L702.1 499.6L703.0 502.6L704.0 505.5L704.9 508.5L705.8 511.5L706.8 514.4L707.7 517.4L708.6 520.4L709.5 523.4L710.4 526.4L711.2 529.4L712.1 532.3L713.0 535.3L713.9 538.3L714.8 541.3L715.7 544.3L716.6 547.3L717.6 550.2L718.5 553.2L719.4 556.2L720.4 559.1L721.4 562.1L722.4 565.1L723.4 568.0L724.4 570.9L725.5 573.8L726.6 576.8L727.7 579.7L728.8 582.5L729.9 585.4L731.1 588.3L732.4 591.1L733.6 594.0L734.9 596.8L736.2 599.6L737.6 602.4L739.0 605.1L740.4 607.9L741.9 610.6L743.4 613.3L745.0 616.0L746.7 618.6L748.4 621.2L750.1 623.8L751.8 626.3L753.5 628.9L755.3 631.4L757.1 633.9L758.9 636.4L760.7 638.9L762.6 641.3L764.4 643.7L766.3 646.1L768.2 648.5L770.1 650.9L772.1 653.2L774.0 655.5L776.0 657.9L778.0 660.1L780.0 662.4L782.0 664.7L784.1 666.9L786.1 669.1L788.2 671.3L790.3 673.5L792.4 675.7L794.5 677.8L796.6 679.9L798.8 682.0L801.0 684.1L803.1 686.2L805.3 688.2L807.6 690.2L809.8 692.3L812.0 694.3L814.3 696.2L816.6 698.2L818.9 700.1L821.2 702.0L823.5 703.9L825.8 705.8L828.2 707.7L830.5 709.5L832.9 711.4L835.3 713.2L837.7 715.0L840.1 716.8L842.5 718.5L845.0 720.3L847.4 722.0L849.9 723.7L852.4 725.4L854.8 727.0L857.3 728.7L859.9 730.3L862.4 732.0L864.9 733.6L867.5 735.1L870.0 736.7L872.6 738.3L875.2 739.8L877.8 741.3L880.4 742.8L883.0 744.3L885.6 745.7L888.3 747.2L890.9 748.6L893.6 750.0L896.2 751.4L898.9 752.8L901.6 754.2L904.3 755.5L907.0 756.8L909.7 758.1L912.4 759.4L915.1 760.7L917.9 762.0L920.6 763.2L923.4 764.4L926.1 765.7L928.9 766.9L931.7 768.0L934.4 769.2L937.2 770.3L940.0 771.5L942.8 772.6L945.7 773.7L948.5 774.8L951.3 775.8L954.1 776.9L957.0 777.9L959.8 778.9L962.7 779.9L965.5 780.9L968.4 781.9L971.3 782.8L974.1 783.8L977.0 784.7L979.9 785.6L982.8 786.5L985.7 787.4L988.6 788.2L991.5 789.1L994.4 789.9L997.3 790.7L1000.3 791.5L1003.2 792.3L1006.1 793.1L1009.0 793.8L1012.0 794.6L1014.9 795.3L1017.9 796.0L1020.8 796.7L1023.8 797.4L1026.7 798.1L1029.7 798.7L1032.6 799.4L1035.6 800.0L1038.6 800.6L1041.6 801.2L1044.5 801.8L1047.5 802.4L1050.5 802.9L1053.5 803.5L1056.5 804.0L1059.5 804.6L1062.5 805.1L1065.4 805.6L1068.4 806.1L1071.4 806.5L1074.4 807.0L1077.5 807.5L1080.5 807.9L1083.5 808.3L1086.5 808.7L1089.5 809.1L1092.5 809.5L1095.5 809.9L1098.5 810.3L1101.5 810.6L1104.6 811.0L1107.6 811.3L1110.6 811.7L1113.6 812.0L1116.6 812.3L1119.7 812.6L1122.7 812.9L1125.7 813.1L1128.7 813.4L1131.8 813.6L1134.8 813.9L1137.8 814.1L1140.8 814.3L1143.8 814.6L1146.9 814.8L1149.9 814.9L1152.9 815.1L1155.9 815.3L1159.0 815.5L1162.0 815.6L1165.0 815.8L1168.0 815.9L1171.0 816.0L1174.0 816.2L1177.1 816.3L1180.1 816.4L1183.1 816.5L1186.1 816.6L1189.1 816.7L1192.1 816.7L1195.1 816.8L1198.1 816.8L1201.1 816.9L1204.1 816.9L1207.1 817.0L1210.1 817.0L1213.1 817.0L1216.1 817.0L1219.1 817.0L1222.0 817.0L1225.0 817.0L1228.0 817.0" fill="none" stroke="#000080" stroke-width="8.4" stroke-linecap="round" stroke-linejoin="round" stroke-dasharray="26.30 20.05 0.30 20.05" stroke-dashoffset="1.32"/>
<path d="M214.0 406.3L217.1 406.3L220.2 406.2L223.2 406.2L226.3 406.1L229.4 406.1L232.4 406.0L235.5 406.0L238.5 405.9L241.6 405.9L244.6 405.8L247.6 405.7L250.7 405.7L253.7 405.6L256.7 405.5L259.8 405.5L262.8 405.4L265.8 405.3L268.8 405.2L271.8 405.1L274.9 405.1L277.9 405.0L280.9 404.9L283.9 404.8L286.9 404.7L289.9 404.6L292.9 404.5L295.9 404.4L298.9 404.3L301.9 404.2L304.9 404.1L307.9 404.0L310.9 403.8L313.9 403.7L316.8 403.6L319.8 403.5L322.8 403.4L325.8 403.3L328.8 403.1L331.8 403.0L334.8 402.9L337.8 402.7L340.7 402.6L343.7 402.5L346.7 402.3L349.7 402.2L352.7 402.1L355.7 401.9L358.7 401.8L361.7 401.6L364.7 401.5L367.6 401.3L370.6 401.2L373.6 401.0L376.6 400.9L379.6 400.7L382.6 400.5L385.6 400.4L388.6 400.2L391.6 400.0L394.6 399.9L397.6 399.7L400.6 399.5L403.6 399.4L406.7 399.2L409.7 399.0L412.7 398.8L415.7 398.6L418.7 398.5L421.8 398.3L424.8 398.1L427.8 397.9L430.9 397.7L433.9 397.5L436.9 397.3L440.0 397.1L443.0 397.0L446.1 396.8L449.1 396.6L452.2 396.4L455.3 396.2L458.3 396.0L461.4 395.8L464.5 395.6L467.5 395.4L470.6 395.2L473.7 395.1L476.8 394.9L479.8 394.8L482.9 394.6L486.0 394.5L489.1 394.4L492.1 394.3L495.2 394.2L498.3 394.1L501.3 394.0L504.4 394.0L507.5 393.9L510.5 393.9L513.6 393.9L516.6 393.9L519.7 394.0L522.7 394.0L525.8 394.1L528.8 394.2L531.8 394.4L534.9 394.5L537.9 394.7L540.9 394.9L543.9 395.1L546.9 395.4L549.9 395.7L552.9 396.0L555.9 396.4L558.8 396.8L561.8 397.2L564.8 397.6L567.7 398.1L570.6 398.7L573.6 399.2L576.5 399.8L579.4 400.5L582.3 401.1L585.2 401.9L588.1 402.6L590.9 403.4L593.8 404.3L596.6 405.2L599.5 406.1L602.3 407.1L605.1 408.1L607.9 409.2L610.6 410.3L613.4 411.5L616.1 412.7L618.8 413.9L621.5 415.2L624.2 416.6L626.9 418.0L629.5 419.4L632.1 420.9L634.7 422.4L637.3 424.0L639.8 425.6L642.3 427.3L644.8 429.0L647.2 430.8L649.6 432.6L652.0 434.4L654.3 436.3L656.6 438.3L658.9 440.3L661.1 442.3L663.3 444.4L665.4 446.5L667.6 448.7L669.6 450.9L671.7 453.1L673.7 455.4L675.6 457.7L677.5 460.1L679.4 462.5L681.2 464.9L683.0 467.4L684.8 469.9L686.4 472.4L688.1 475.0L689.7 477.6L691.3 480.2L692.8 482.9L694.2 485.5L695.6 488.3L697.0 491.0L698.0 494.0L699.0 496.9L700.1 499.9L701.2 502.8L702.3 505.7L703.4 508.6L704.5 511.6L705.7 514.5L706.8 517.4L708.0 520.3L709.2 523.1L710.4 526.0L711.6 528.9L712.9 531.7L714.1 534.6L715.4 537.5L716.7 540.3L718.0 543.2L719.3 546.0L720.6 548.8L721.9 551.7L723.2 554.5L724.6 557.3L725.9 560.1L727.3 563.0L728.6 565.8L730.0 568.6L731.3 571.4L732.7 574.2L734.1 577.0L735.4 579.8L736.8 582.6L738.2 585.5L739.5 588.3L740.9 591.1L742.3 593.9L743.6 596.7L745.0 599.5L746.7 602.0L748.4 604.4L750.2 606.9L751.9 609.3L753.7 611.7L755.6 614.1L757.4 616.5L759.3 618.9L761.2 621.2L763.1 623.6L765.0 625.9L766.9 628.2L768.9 630.5L770.9 632.7L772.9 635.0L775.0 637.2L777.0 639.4L779.1 641.6L781.2 643.7L783.3 645.9L785.4 648.0L787.6 650.1L789.8 652.2L792.0 654.3L794.2 656.4L796.4 658.4L798.6 660.4L800.9 662.4L803.2 664.4L805.5 666.3L807.8 668.3L810.1 670.2L812.5 672.1L814.9 674.0L817.3 675.8L819.7 677.7L822.1 679.5L824.5 681.3L826.9 683.0L829.4 684.8L831.9 686.5L834.4 688.2L836.9 689.9L839.4 691.6L841.9 693.2L844.5 694.9L847.0 696.5L849.6 698.0L852.2 699.6L854.8 701.1L857.4 702.6L860.1 704.1L862.7 705.6L865.3 707.0L868.0 708.4L870.7 709.8L873.4 711.2L876.1 712.6L878.8 713.9L881.5 715.2L884.2 716.5L887.0 717.7L889.7 719.0L892.5 720.2L895.2 721.3L898.0 722.5L900.8 723.6L903.6 724.8L906.4 725.8L909.2 726.9L912.0 728.0L914.9 729.0L917.7 730.0L920.5 731.0L923.4 732.0L926.2 732.9L929.1 733.8L932.0 734.8L934.9 735.6L937.8 736.5L940.6 737.4L943.5 738.2L946.4 739.0L949.4 739.8L952.3 740.6L955.2 741.4L958.1 742.2L961.0 742.9L964.0 743.6L966.9 744.3L969.9 745.0L972.8 745.7L975.8 746.4L978.7 747.0L981.7 747.7L984.6 748.3L987.6 748.9L990.6 749.5L993.5 750.1L996.5 750.7L999.5 751.2L1002.4 751.8L1005.4 752.4L1008.4 752.9L1011.4 753.4L1014.4 753.9L1017.3 754.4L1020.3 754.9L1023.3 755.4L1026.3 755.9L1029.3 756.4L1032.3 756.8L1035.3 757.2L1038.3 757.7L1041.2 758.1L1044.2 758.5L1047.2 758.9L1050.2 759.3L1053.2 759.7L1056.2 760.1L1059.2 760.5L1062.2 760.8L1065.2 761.2L1068.2 761.5L1071.3 761.9L1074.3 762.2L1077.3 762.5L1080.3 762.8L1083.3 763.1L1086.3 763.4L1089.3 763.7L1092.3 764.0L1095.3 764.2L1098.3 764.5L1101.4 764.8L1104.4 765.0L1107.4 765.2L1110.4 765.5L1113.4 765.7L1116.4 765.9L1119.4 766.1L1122.5 766.3L1125.5 766.5L1128.5 766.7L1131.5 766.9L1134.5 767.1L1137.5 767.2L1140.6 767.4L1143.6 767.6L1146.6 767.7L1149.6 767.9L1152.6 768.0L1155.7 768.1L1158.7 768.3L1161.7 768.4L1164.7 768.5L1167.7 768.6L1170.7 768.7L1173.8 768.8L1176.8 768.9L1179.8 769.0L1182.8 769.1L1185.8 769.2L1188.8 769.2L1191.9 769.3L1194.9 769.4L1197.9 769.4L1200.9 769.5L1203.9 769.5L1206.9 769.6L1209.9 769.6L1213.0 769.7L1216.0 769.7L1219.0 769.7L1222.0 769.8L1225.0 769.8L1228.0 769.8" fill="none" stroke="#8000ff" stroke-width="8.4" stroke-linecap="round" stroke-linejoin="round"/>
<path d="M214.0 508.4L217.1 508.3L220.1 508.3L223.2 508.2L226.3 508.1L229.3 508.1L232.4 508.0L235.5 507.9L238.5 507.8L241.6 507.7L244.6 507.6L247.7 507.5L250.7 507.4L253.8 507.2L256.8 507.1L259.8 507.0L262.9 506.9L265.9 506.7L268.9 506.6L272.0 506.5L275.0 506.3L278.0 506.2L281.1 506.0L284.1 505.8L287.1 505.7L290.1 505.5L293.2 505.3L296.2 505.2L299.2 505.0L302.2 504.8L305.2 504.6L308.3 504.4L311.3 504.2L314.3 504.0L317.3 503.8L320.3 503.6L323.3 503.4L326.3 503.2L329.3 503.0L332.4 502.8L335.4 502.5L338.4 502.3L341.4 502.1L344.4 501.8L347.4 501.6L350.4 501.4L353.4 501.1L356.4 500.9L359.4 500.6L362.4 500.3L365.4 500.1L368.4 499.8L371.4 499.6L374.4 499.3L377.4 499.0L380.4 498.7L383.4 498.5L386.4 498.2L389.4 497.9L392.4 497.6L395.4 497.3L398.4 497.0L401.5 496.7L404.5 496.4L407.5 496.1L410.5 495.8L413.5 495.5L416.5 495.2L419.5 494.9L422.5 494.6L425.5 494.2L428.5 493.9L431.5 493.6L434.5 493.3L437.6 492.9L440.6 492.6L443.6 492.3L446.6 491.9L449.6 491.6L452.6 491.3L455.7 490.9L458.7 490.6L461.7 490.2L464.7 489.9L467.8 489.5L470.8 489.2L473.8 488.8L476.8 488.4L479.9 488.1L482.9 487.7L485.9 487.3L489.0 487.0L492.0 486.6L495.1 486.2L498.1 485.9L501.2 485.5L504.2 485.1L507.3 484.7L510.3 484.3L513.4 484.0L516.4 483.6L519.5 483.2L522.5 482.8L525.6 482.5L528.6 482.1L531.7 481.8L534.7 481.4L537.8 481.1L540.9 480.8L543.9 480.5L547.0 480.2L550.0 479.9L553.1 479.6L556.1 479.4L559.2 479.2L562.2 478.9L565.3 478.8L568.3 478.6L571.3 478.4L574.4 478.3L577.4 478.2L580.4 478.1L583.5 478.1L586.5 478.1L589.5 478.1L592.5 478.1L595.5 478.2L598.5 478.3L601.5 478.4L604.5 478.6L607.5 478.8L610.4 479.1L613.4 479.3L616.4 479.7L619.3 480.0L622.3 480.4L625.2 480.9L628.1 481.4L631.1 481.9L634.0 482.5L636.8 483.2L639.7 483.9L642.6 484.6L645.4 485.4L648.2 486.3L651.0 487.2L653.8 488.2L656.6 489.3L659.3 490.4L662.0 491.6L664.7 492.8L667.4 494.2L670.0 495.5L672.6 497.0L675.2 498.5L677.7 500.2L680.3 501.9L682.8 503.6L685.2 505.5L687.6 507.4L690.0 509.4L692.4 511.5L694.7 513.7L697.0 516.0L698.5 518.8L700.0 521.5L701.6 524.3L703.2 527.0L704.8 529.7L706.5 532.4L708.1 535.0L709.8 537.7L711.5 540.3L713.3 543.0L715.0 545.6L716.8 548.2L718.5 550.8L720.3 553.4L722.1 556.0L723.9 558.6L725.7 561.2L727.5 563.8L729.3 566.4L731.1 569.0L732.8 571.6L734.6 574.2L736.4 576.8L738.1 579.4L739.9 582.1L741.6 584.7L743.3 587.3L745.0 590.0L747.4 592.1L749.8 594.1L752.3 596.0L754.7 597.9L757.2 599.8L759.7 601.6L762.3 603.4L764.8 605.1L767.3 606.8L769.9 608.5L772.5 610.1L775.1 611.6L777.7 613.2L780.4 614.6L783.0 616.1L785.7 617.5L788.4 618.8L791.1 620.2L793.8 621.5L796.5 622.7L799.2 623.9L802.0 625.1L804.7 626.2L807.5 627.3L810.3 628.4L813.1 629.5L815.9 630.5L818.7 631.4L821.6 632.4L824.4 633.3L827.3 634.2L830.1 635.0L833.0 635.8L835.9 636.6L838.8 637.4L841.7 638.1L844.6 638.8L847.5 639.5L850.4 640.1L853.4 640.8L856.3 641.4L859.3 641.9L862.2 642.5L865.2 643.0L868.1 643.5L871.1 644.0L874.1 644.5L877.1 644.9L880.1 645.3L883.0 645.7L886.0 646.1L889.0 646.4L892.0 646.8L895.0 647.1L898.0 647.4L901.1 647.7L904.1 647.9L907.1 648.2L910.1 648.4L913.1 648.7L916.1 648.9L919.2 649.1L922.2 649.2L925.2 649.4L928.2 649.6L931.2 649.7L934.3 649.8L937.3 650.0L940.3 650.1L943.3 650.2L946.4 650.2L949.4 650.3L952.4 650.4L955.4 650.4L958.5 650.4L961.5 650.5L964.5 650.5L967.6 650.5L970.6 650.5L973.6 650.5L976.7 650.5L979.7 650.4L982.7 650.4L985.8 650.3L988.8 650.3L991.8 650.2L994.9 650.1L997.9 650.1L1000.9 650.0L1004.0 649.9L1007.0 649.8L1010.0 649.7L1013.1 649.6L1016.1 649.4L1019.1 649.3L1022.2 649.2L1025.2 649.0L1028.3 648.9L1031.3 648.8L1034.3 648.6L1037.4 648.5L1040.4 648.3L1043.5 648.1L1046.5 648.0L1049.5 647.8L1052.6 647.6L1055.6 647.5L1058.6 647.3L1061.7 647.1L1064.7 646.9L1067.8 646.8L1070.8 646.6L1073.8 646.4L1076.9 646.2L1079.9 646.0L1082.9 645.8L1086.0 645.7L1089.0 645.5L1092.1 645.3L1095.1 645.1L1098.1 644.9L1101.2 644.7L1104.2 644.6L1107.2 644.4L1110.3 644.2L1113.3 644.0L1116.3 643.9L1119.4 643.7L1122.4 643.5L1125.4 643.4L1128.5 643.2L1131.5 643.0L1134.5 642.9L1137.5 642.7L1140.6 642.6L1143.6 642.5L1146.6 642.3L1149.7 642.2L1152.7 642.1L1155.7 642.0L1158.7 641.8L1161.8 641.7L1164.8 641.6L1167.8 641.5L1170.8 641.5L1173.8 641.4L1176.9 641.3L1179.9 641.2L1182.9 641.2L1185.9 641.1L1188.9 641.1L1191.9 641.1L1194.9 641.1L1198.0 641.0L1201.0 641.0L1204.0 641.1L1207.0 641.1L1210.0 641.1L1213.0 641.1L1216.0 641.2L1219.0 641.3L1222.0 641.3L1225.0 641.4L1228.0 641.5" fill="none" stroke="#800080" stroke-width="8.4" stroke-linecap="round" stroke-linejoin="round" stroke-dasharray="35.60 49.38" stroke-dashoffset="1.36"/>
<g stroke="#000" stroke-width="3" fill="none" stroke-linecap="square" stroke-linejoin="round">
<rect x="163.5" y="30.5" width="1115.1" height="901.9"/>
<path d="M214.0 932.4 v-16.5 M214.0 30.5 v16.5 M315.4 932.4 v-8 M315.4 30.5 v8 M416.9 932.4 v-16.5 M416.9 30.5 v16.5 M518.3 932.4 v-8 M518.3 30.5 v8 M619.8 932.4 v-16.5 M619.8 30.5 v16.5 M721.2 932.4 v-8 M721.2 30.5 v8 M822.6 932.4 v-16.5 M822.6 30.5 v16.5 M924.1 932.4 v-8 M924.1 30.5 v8 M1025.5 932.4 v-16.5 M1025.5 30.5 v16.5 M1127.0 932.4 v-8 M1127.0 30.5 v8 M1228.4 932.4 v-16.5 M1228.4 30.5 v16.5 M163.5 899.3 h16.5 M1278.6 899.3 h-16.5 M163.5 815.7 h7.5 M1278.6 815.7 h-7.5 M163.5 732.2 h16.5 M1278.6 732.2 h-16.5 M163.5 648.6 h7.5 M1278.6 648.6 h-7.5 M163.5 565.1 h16.5 M1278.6 565.1 h-16.5 M163.5 481.5 h7.5 M1278.6 481.5 h-7.5 M163.5 397.9 h16.5 M1278.6 397.9 h-16.5 M163.5 314.4 h7.5 M1278.6 314.4 h-7.5 M163.5 230.8 h16.5 M1278.6 230.8 h-16.5 M163.5 147.3 h7.5 M1278.6 147.3 h-7.5 M163.5 63.7 h16.5 M1278.6 63.7 h-16.5" stroke-linecap="round"/>
</g>
<g font-size="47" fill="#000">
<text transform="translate(143 912.3) scale(1 1.042)" text-anchor="end">0.0</text>
<text transform="translate(143 745.2) scale(1 1.042)" text-anchor="end">0.5</text>
<text transform="translate(143 578.1) scale(1 1.042)" text-anchor="end">1.0</text>
<text transform="translate(143 410.9) scale(1 1.042)" text-anchor="end">1.5</text>
<text transform="translate(143 243.8) scale(1 1.042)" text-anchor="end">2.0</text>
<text transform="translate(143 76.7) scale(1 1.042)" text-anchor="end">2.5</text>
<text transform="translate(214.0 988) scale(1 1.042)" text-anchor="middle">0.0</text>
<text transform="translate(416.9 988) scale(1 1.042)" text-anchor="middle">0.2</text>
<text transform="translate(619.8 988) scale(1 1.042)" text-anchor="middle">0.4</text>
<text transform="translate(822.6 988) scale(1 1.042)" text-anchor="middle">0.6</text>
<text transform="translate(1025.5 988) scale(1 1.042)" text-anchor="middle">0.8</text>
<text transform="translate(1228.4 988) scale(1 1.042)" text-anchor="middle">1.0</text>
</g>
<text transform="translate(268.5 592.5) scale(1 1.042)" font-size="47">Negative</text>
<text transform="translate(958.5 593.3) scale(1 1.042)" font-size="47">Positive</text>
<line x1="971.8" y1="86.8" x2="1077.2" y2="86.8" fill="none" stroke="#000000" stroke-width="8.4" stroke-linecap="round" stroke-linejoin="round"/>
<text transform="translate(1089.5 102.1) scale(1 1.042)" font-size="47">3627 s</text>
<line x1="971.8" y1="144.8" x2="1077.2" y2="144.8" fill="none" stroke="#ff0000" stroke-width="8.4" stroke-linecap="round" stroke-linejoin="round" stroke-dasharray="36.3 49"/>
<text transform="translate(1089.5 160.1) scale(1 1.042)" font-size="47">2987 s</text>
<line x1="971.8" y1="202.8" x2="1077.2" y2="202.8" fill="none" stroke="#0000ff" stroke-width="8.4" stroke-linecap="round" stroke-linejoin="round" stroke-dasharray="44 28.2 7.2 28.2"/>
<text transform="translate(1089.5 218.1) scale(1 1.042)" font-size="47">2065 s</text>
<line x1="971.8" y1="260.8" x2="1077.2" y2="260.8" fill="none" stroke="#ff00ff" stroke-width="8.4" stroke-linecap="round" stroke-linejoin="round" stroke-dasharray="32.5 27.6 6.9 27.6 6.3 28"/>
<text transform="translate(1089.5 276.1) scale(1 1.042)" font-size="47">1246 s</text>
<line x1="971.8" y1="318.8" x2="1077.2" y2="318.8" fill="none" stroke="#008000" stroke-width="8.4" stroke-linecap="round" stroke-linejoin="round" stroke-dasharray="13.9 25"/>
<text transform="translate(1089.5 334.1) scale(1 1.042)" font-size="47">714 s</text>
<line x1="971.8" y1="376.8" x2="1077.2" y2="376.8" fill="none" stroke="#000080" stroke-width="8.4" stroke-linecap="round" stroke-linejoin="round" stroke-dasharray="26.6 20 0.2 20.6"/>
<text transform="translate(1089.5 392.1) scale(1 1.042)" font-size="47">487 s</text>
<line x1="971.8" y1="434.8" x2="1077.2" y2="434.8" fill="none" stroke="#8000ff" stroke-width="8.4" stroke-linecap="round" stroke-linejoin="round"/>
<text transform="translate(1089.5 450.1) scale(1 1.042)" font-size="47">340 s</text>
<line x1="971.8" y1="492.8" x2="1077.2" y2="492.8" fill="none" stroke="#800080" stroke-width="8.4" stroke-linecap="round" stroke-linejoin="round" stroke-dasharray="36.3 49"/>
<text transform="translate(1089.5 508.1) scale(1 1.042)" font-size="47">118 s</text>
<text x="318.5" y="1075.7" font-size="56.7" font-weight="bold">Relative cell coordinate, x/L<tspan font-size="32.7" dx="1.5" dy="16.5">cell</tspan></text>
<text transform="translate(44.2 961.5) rotate(-90)" font-size="56.7" font-weight="bold">Electroltye salt concentration, c/c<tspan font-size="32.7" dy="17.5">avg</tspan></text>
</svg></body></html>
